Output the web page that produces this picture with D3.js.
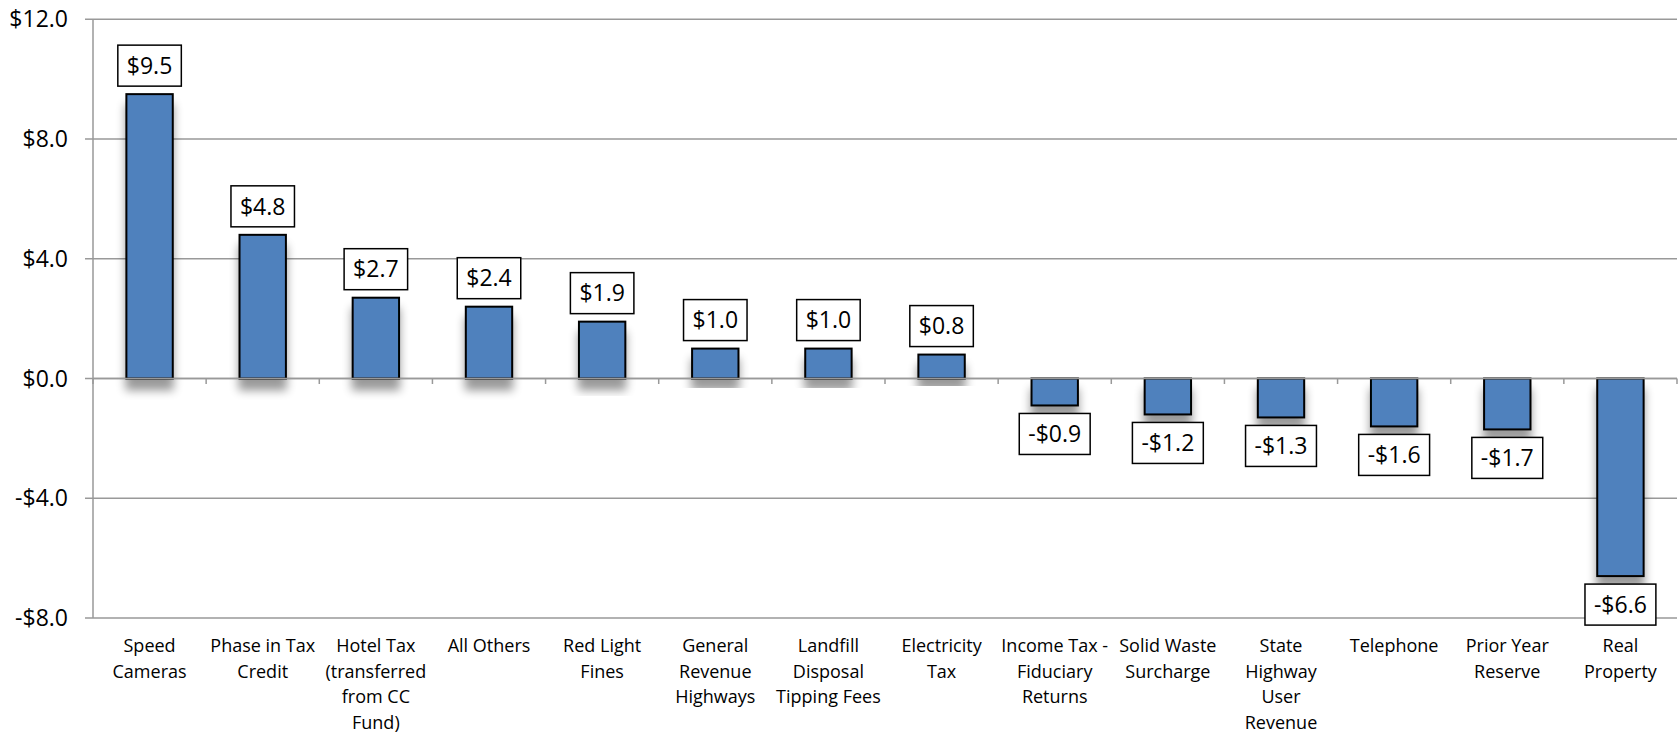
<!DOCTYPE html>
<html>
<head>
<meta charset="utf-8">
<script src="https://cdn.jsdelivr.net/npm/d3@7"></script>
<style>
  html, body { margin: 0; padding: 0; background: #fff; }
  svg { display: block; font-family: "Open Sans", sans-serif; }
</style>
</head>
<body>
<svg id="chart" width="1680" height="734"></svg>
<script>
// ---- data ----
const categories = [
  "Speed\nCameras",
  "Phase in Tax\nCredit",
  "Hotel Tax\n(transferred\nfrom CC\nFund)",
  "All Others",
  "Red Light\nFines",
  "General\nRevenue\nHighways",
  "Landfill\nDisposal\nTipping Fees",
  "Electricity\nTax",
  "Income Tax -\nFiduciary\nReturns",
  "Solid Waste\nSurcharge",
  "State\nHighway\nUser\nRevenue",
  "Telephone",
  "Prior Year\nReserve",
  "Real\nProperty"
];
const values = [9.5, 4.8, 2.7, 2.4, 1.9, 1.0, 1.0, 0.8, -0.9, -1.2, -1.3, -1.6, -1.7, -6.6];
const yTicks = [-8, -4, 0, 4, 8, 12];

// ---- layout ----
const svg = d3.select("#chart");
const plotL = 93, plotR = 1677, plotT = 19.3, plotB = 618;

const x = d3.scaleBand().domain(d3.range(categories.length)).range([plotL, plotR]).paddingInner(0.59).paddingOuter(0.295);
const band = d3.scaleBand().domain(d3.range(categories.length)).range([plotL, plotR]);
const y = d3.scaleLinear().domain([-8, 12]).range([plotB, plotT]);

const fmt = v => (v < 0 ? "-$" : "$") + Math.abs(v).toFixed(1);

// shadow filter
const defs = svg.append("defs");
const f = defs.append("filter").attr("id", "shadow").attr("x", "-30%").attr("y", "-30%").attr("width", "160%").attr("height", "160%");
f.append("feGaussianBlur").attr("in", "SourceAlpha").attr("stdDeviation", 5).attr("result", "blur");
f.append("feOffset").attr("in", "blur").attr("dx", 0).attr("dy", 11).attr("result", "off");
f.append("feComponentTransfer").attr("in", "off").attr("result", "sh")
  .append("feFuncA").attr("type", "linear").attr("slope", 0.4);
const m = f.append("feMerge");
m.append("feMergeNode").attr("in", "sh");
m.append("feMergeNode").attr("in", "SourceGraphic");

// gridlines
svg.append("g").selectAll("line").data(yTicks).join("line")
  .attr("x1", plotL - 8).attr("x2", plotR)
  .attr("y1", d => y(d)).attr("y2", d => y(d))
  .attr("stroke", "#999").attr("stroke-width", 1.5);

// y axis line
svg.append("line").attr("x1", plotL).attr("x2", plotL).attr("y1", y(12)).attr("y2", y(-8))
  .attr("stroke", "#999").attr("stroke-width", 1.5);

// y tick labels
svg.append("g").selectAll("text").data(yTicks).join("text")
  .attr("x", plotL - 25).attr("y", d => y(d)).attr("dy", "0.35em")
  .attr("text-anchor", "end").attr("font-size", 23).attr("fill", "#000")
  .text(d => fmt(d));

// x ticks on zero line
const bounds = d3.range(categories.length + 1).map(i => plotL + i * band.step());
svg.append("g").selectAll("line").data(bounds).join("line")
  .attr("x1", d => d).attr("x2", d => d)
  .attr("y1", y(0)).attr("y2", y(0) + 5.5)
  .attr("stroke", "#999").attr("stroke-width", 1.5);

// bars
svg.append("g").selectAll("rect").data(values).join("rect")
  .attr("x", (d, i) => x(i))
  .attr("width", x.bandwidth())
  .attr("y", d => y(Math.max(0, d)))
  .attr("height", d => Math.abs(y(d) - y(0)))
  .attr("fill", "#4F81BD")
  .attr("stroke", "#000").attr("stroke-width", 2)
  .attr("filter", "url(#shadow)");

// zero line on top of bar bases
svg.append("line").attr("x1", plotL).attr("x2", plotR).attr("y1", y(0)).attr("y2", y(0))
  .attr("stroke", "#999").attr("stroke-width", 1.5);

// data labels
const lab = svg.append("g").selectAll("g").data(values).join("g");
lab.each(function(d, i) {
  const g = d3.select(this);
  const cx = band(i) + band.bandwidth() / 2;
  const t = g.append("text").attr("font-size", 23).attr("text-anchor", "middle").attr("fill", "#000").text(fmt(d));
  const w = t.node().getComputedTextLength() + 18;
  const h = 41;
  const boxTop = d >= 0 ? y(d) - 8 - h : y(d) + 8;
  g.insert("rect", "text")
    .attr("x", cx - w / 2).attr("y", boxTop).attr("width", w).attr("height", h)
    .attr("fill", "#fff").attr("stroke", "#000").attr("stroke-width", 1.5);
  t.attr("x", cx).attr("y", boxTop + h / 2).attr("dy", "0.36em");
});

// category labels
const cat = svg.append("g").selectAll("text").data(categories).join("text")
  .attr("x", (d, i) => band(i) + band.bandwidth() / 2)
  .attr("y", 652)
  .attr("text-anchor", "middle").attr("font-size", 18).attr("fill", "#000");
cat.each(function(d) {
  const t = d3.select(this);
  d.split("\n").forEach((line, k) => {
    t.append("tspan").attr("x", t.attr("x")).attr("y", 652 + k * 25.5).text(line);
  });
});
</script>
</body>
</html>
